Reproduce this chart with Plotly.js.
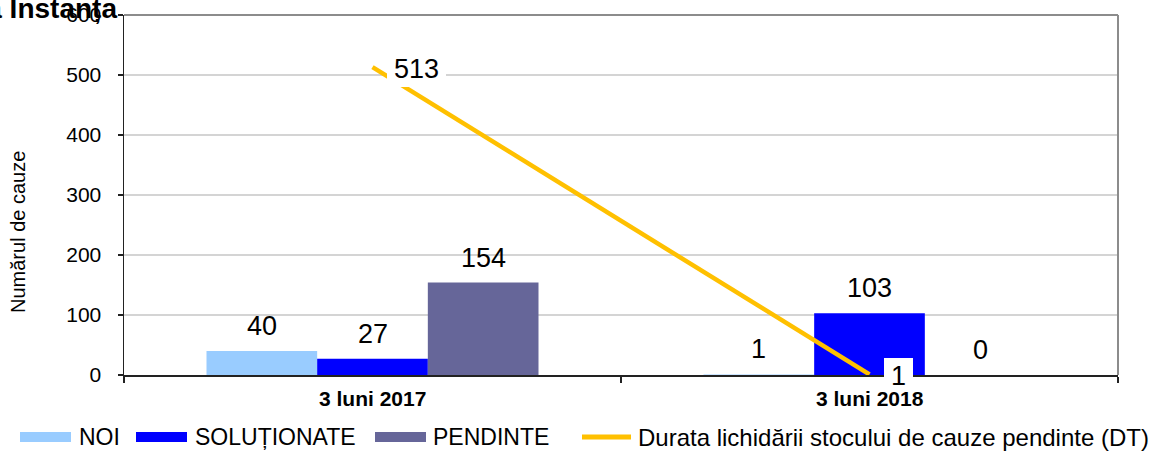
<!DOCTYPE html>
<html>
<head>
<meta charset="utf-8">
<script src="https://cdn.plot.ly/plotly-3.0.1.min.js"></script>
<style>html,body{margin:0;padding:0;background:#fff;}#chart{width:1150px;height:452px;}</style>
</head>
<body>
<div id="chart"></div>
<script>
// ---- data ----
var categories = ["3 luni 2017", "3 luni 2018"];
var seriesNames = ["NOI", "SOLUȚIONATE", "PENDINTE"];
var noi = [40, 1];
var solutionate = [27, 103];
var pendinte = [154, 0];
var lineName = "Durata lichidării stocului de cauze pendinte (DT)";
var durata = [513, 1];
var titleText = "Prima Instanța";
var yTitle = "Numărul de cauze";

// ---- styles ----
var FONT = "Liberation Sans, Arial, sans-serif";
var barColors = ["#99CCFF", "#0000FF", "#666699"];
var lineColor = "#FFC000";
var barValues = [noi, solutionate, pendinte];
var BARGAP = 0.332;

var L = 124, R = 32, T = 15, B = 77, W = 1150, H = 452;
var pw = W - L - R, ph = H - T - B;
function px(x) { return (x - L) / pw; }
function py(y) { return (H - B - y) / ph; }

var traces = [];
barValues.forEach(function (vals, j) {
  traces.push({
    type: "bar", name: seriesNames[j], x: categories, y: vals,
    marker: { color: barColors[j], line: { width: 0 } },
    showlegend: false
  });
});
traces.push({
  type: "scatter", mode: "lines", name: lineName, x: categories, y: durata,
  line: { color: lineColor, width: 4.5 }, showlegend: false
});

var annotations = [];
// bar value labels
var bw = (1 - BARGAP) / barValues.length;
barValues.forEach(function (vals, j) {
  vals.forEach(function (v, i) {
    annotations.push({
      x: i + (j - (barValues.length - 1) / 2) * bw, y: v, xref: "x", yref: "y",
      text: String(v), showarrow: false, yanchor: "middle", yshift: 25,
      font: { family: FONT, size: 27, color: "#000" }
    });
  });
});
// line value labels (white box)
durata.forEach(function (v, i) {
  annotations.push({
    x: i, y: v, xref: "x", yref: "y", text: String(v), showarrow: false,
    xanchor: "left", yanchor: "middle", xshift: 14, yshift: -2,
    height: 22, bgcolor: "#fff", borderpad: 7, borderwidth: 0,
    font: { family: FONT, size: 27, color: "#000" }
  });
});
// category labels drawn on top of the value boxes
categories.forEach(function (c, i) {
  annotations.push({
    x: i, xref: "x", yref: "paper", y: py(398), xanchor: "center", yanchor: "middle",
    text: "<b>" + c + "</b>", showarrow: false,
    font: { family: FONT, size: 21, color: "#000" }
  });
});
// title (cut off at the left edge, as in the reference)
annotations.push({
  xref: "paper", yref: "paper", x: px(119), y: py(8), xanchor: "right", yanchor: "middle",
  text: "<b>" + titleText + "</b>", showarrow: false,
  font: { family: FONT, size: 28, color: "#000" }
});
// y axis title
annotations.push({
  xref: "paper", yref: "paper", x: px(18), y: py(232), xanchor: "center", yanchor: "middle",
  text: yTitle, textangle: -90, showarrow: false,
  font: { family: FONT, size: 20, color: "#000" }
});

// frame (top/right, grey)
var shapes = [
  { type: "line", xref: "paper", yref: "paper", x0: 0, x1: 1, y0: 1, y1: 1, line: { color: "#8c8c8c", width: 2 }, layer: "above" },
  { type: "line", xref: "paper", yref: "paper", x0: 1, x1: 1, y0: 0, y1: 1, line: { color: "#8c8c8c", width: 2 }, layer: "above" }
];
// custom legend
var legY = 437;
var swatchX = [20, 136, 375];
var textX = [77, 193, 431];
seriesNames.forEach(function (n, j) {
  shapes.push({
    type: "rect", xref: "paper", yref: "paper",
    x0: px(swatchX[j]), x1: px(swatchX[j] + 51), y0: py(legY - 5), y1: py(legY + 5),
    fillcolor: barColors[j], line: { width: 0 }
  });
  annotations.push({
    xref: "paper", yref: "paper", x: px(textX[j]), y: py(legY), xanchor: "left", yanchor: "middle",
    text: n, showarrow: false, font: { family: FONT, size: 23, color: "#000" }
  });
});
shapes.push({
  type: "line", xref: "paper", yref: "paper", x0: px(582), x1: px(631), y0: py(legY), y1: py(legY),
  line: { color: lineColor, width: 5 }
});
annotations.push({
  xref: "paper", yref: "paper", x: px(636), y: py(legY), xanchor: "left", yanchor: "middle",
  text: lineName, showarrow: false, font: { family: FONT, size: 24, color: "#000" }
});

var layout = {
  width: W, height: H,
  margin: { l: L, r: R, t: T, b: B, pad: 0 },
  paper_bgcolor: "#fff", plot_bgcolor: "#fff",
  barmode: "group", bargap: BARGAP, bargroupgap: 0,
  showlegend: false,
  font: { family: FONT, color: "#000" },
  xaxis: {
    type: "category", range: [-0.5, 1.5], fixedrange: true,
    showline: true, linecolor: "#222", linewidth: 1.5,
    ticks: "outside", tickson: "boundaries", ticklen: 6, tickcolor: "#222", tickwidth: 1.5,
    showgrid: false, zeroline: false, showticklabels: false
  },
  yaxis: {
    range: [0, 600], dtick: 100, fixedrange: true,
    showline: true, linecolor: "#222", linewidth: 1.5,
    ticks: "outside", ticklen: 5, tickcolor: "#222", tickwidth: 1.5,
    showgrid: true, gridcolor: "#d4d4d4", gridwidth: 1.5, zeroline: false,
    ticklabelstandoff: 12,
    tickfont: { family: FONT, size: 21, color: "#000" }
  },
  shapes: shapes,
  annotations: annotations
};

Plotly.newPlot("chart", traces, layout, { displayModeBar: false, staticPlot: true });
</script>
</body>
</html>
